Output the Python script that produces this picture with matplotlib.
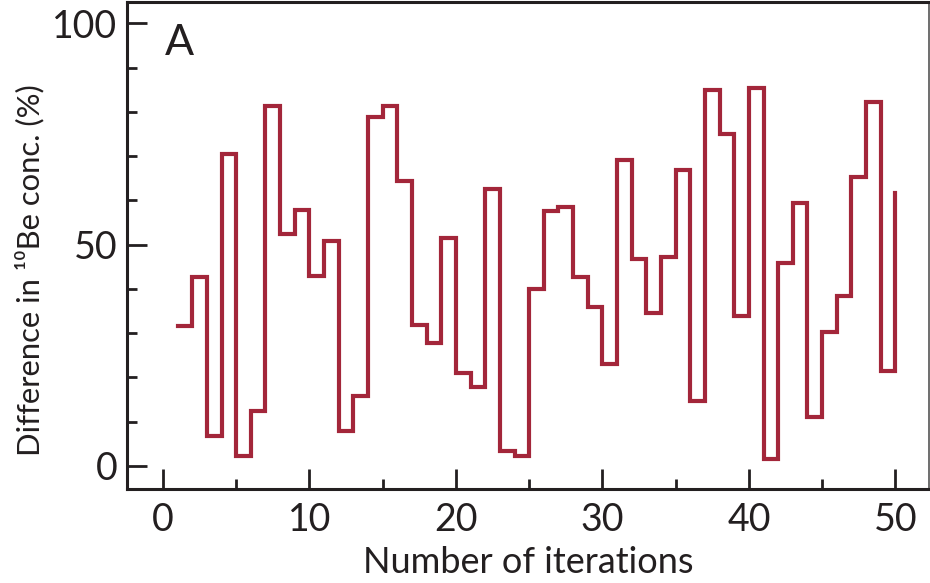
import matplotlib
matplotlib.use("Agg")
import matplotlib.pyplot as plt
import numpy as np

iterations = list(range(1, 51))
difference = [31.6, 42.7, 6.8, 70.4, 2.3, 12.5, 81.3, 52.3, 57.9, 43.0,
              50.9, 7.8, 15.7, 78.9, 81.4, 64.3, 31.9, 27.8, 51.6, 21.1,
              17.9, 62.5, 3.3, 2.3, 39.9, 57.5, 58.4, 42.7, 36.0, 23.0,
              69.0, 46.8, 34.5, 47.1, 66.9, 14.7, 85.0, 74.9, 33.9, 85.3,
              1.5, 45.9, 59.3, 11.1, 30.2, 38.4, 65.2, 82.3, 21.5, 61.7]
x_ticks = [0, 10, 20, 30, 40, 50]
y_ticks = [0, 50, 100]

plt.rcParams['font.family'] = ['Lato', 'DejaVu Sans']
dark = '#231f20'
red = '#a3263a'

fig = plt.figure(figsize=(9.3, 5.83), dpi=100)
ax = fig.add_axes([0.1366, 0.1612, 0.8624, 0.8354])
ax.step(iterations, difference, where='post', color=red, lw=3.0, solid_joinstyle='miter')

ax.set_xlim(-2.45, 52.3)
ax.set_ylim(-5.2, 104.8)
ax.set_xticks(x_ticks)
ax.set_xticks(np.arange(5, 50, 10), minor=True)
ax.set_yticks(y_ticks)
ax.set_yticks([v for v in range(0, 101, 10) if v not in y_ticks], minor=True)
ax.tick_params(axis='both', which='major', direction='in', length=14.4, width=2, color=dark,
               labelsize=27, labelcolor=dark)
ax.tick_params(axis='both', which='minor', direction='in', length=7.2, width=2, color=dark)
ax.tick_params(axis='x', which='major', pad=9)
ax.tick_params(axis='y', which='major', pad=7)
for s in ax.spines.values():
    s.set_linewidth(2.2)
    s.set_color(dark)
ax.spines['right'].set_color('#555555')
ax.spines['right'].set_linewidth(1.2)

ax.set_xlabel('Number of iterations', fontsize=26, color=dark)
ax.xaxis.set_label_coords(0.5, -0.172)
ax.xaxis.label.set_va('baseline')
ax.set_ylabel('Difference in ¹⁰Be conc. (%)', fontsize=22.3, color=dark)
ax.yaxis.set_label_coords(-0.103, 0.45)
ax.text(0.047, 0.955, 'A', transform=ax.transAxes, fontsize=31, color=dark, va='top', ha='left')

fig.savefig('out.png', dpi=100)
